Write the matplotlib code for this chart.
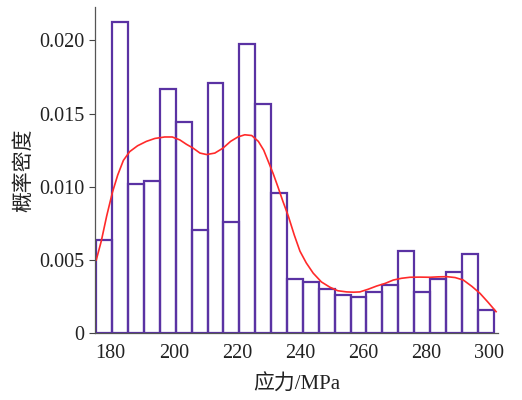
import numpy as np
import matplotlib
matplotlib.use('Agg')
import matplotlib.pyplot as plt

plt.rcParams['font.family'] = ['Liberation Serif', 'Noto Sans CJK SC']

# histogram bins (MPa) and densities
bin_start = 175.4
bin_width = 5.04
densities = [0.00637, 0.02126, 0.0102, 0.01038, 0.01667, 0.01439, 0.00706,
             0.01708, 0.00762, 0.01976, 0.01562, 0.0096, 0.00369, 0.0035,
             0.0030, 0.00264, 0.00246, 0.00282, 0.00332, 0.0056, 0.00282,
             0.00369, 0.00419, 0.00542, 0.00159]

# fitted density curve
curve_x = [175.4, 177.0, 178.7, 180.5, 182.2, 184.0, 186.0, 188.5, 191.3, 194.0,
           197.1, 199.5, 201.9, 204.0, 206.1, 208.3, 210.4, 213.0, 215.6, 218.0,
           220.3, 222.5, 224.7, 226.8, 228.5, 230.0, 231.5, 233.0, 234.6, 236.3,
           238.2, 240.0, 242.0, 244.2, 246.8, 249.5, 252.0, 254.8, 257.0, 259.0,
           261.6, 264.3, 267.0, 269.6, 272.2, 274.9, 278.0, 281.3, 284.0, 286.6,
           289.2, 291.8, 294.5, 297.1, 299.7, 302.2]
curve_y = [0.0050, 0.0063, 0.0080, 0.0096, 0.0108, 0.0118, 0.0124, 0.0128, 0.0131, 0.0133,
           0.0134, 0.0134, 0.0132, 0.0129, 0.01264, 0.0123, 0.0122, 0.0123, 0.01264, 0.0131,
           0.0134, 0.01355, 0.0135, 0.0131, 0.0125, 0.0117, 0.0109, 0.0100, 0.0090, 0.0080,
           0.0067, 0.0056, 0.0048, 0.0041, 0.0035, 0.00314, 0.0029, 0.00282, 0.0028, 0.00282,
           0.0030, 0.00322, 0.0034, 0.00363, 0.00375, 0.00382, 0.00383, 0.00382, 0.00385, 0.00386,
           0.0038, 0.00363, 0.0032, 0.00272, 0.0021, 0.00147]

fig = plt.figure(figsize=(5.22, 4.0), dpi=100)
ax = fig.add_axes([0.182, 0.167, 0.772, 0.816])

edges = bin_start + bin_width * np.arange(len(densities))
ax.bar(edges, densities, width=bin_width, align='edge', fill=False,
       edgecolor='#5a32a3', linewidth=1.6)
ax.plot(curve_x, curve_y, color='#ff2a2a', linewidth=1.2)

ax.set_xlim(175, 302.8)
ax.set_ylim(0, 0.02229)
ax.set_xticks([180, 200, 220, 240, 260, 280, 300])
ax.set_yticks([0, 0.005, 0.010, 0.015, 0.020])
ax.set_yticklabels(['0', '0.005', '0.010', '0.015', '0.020'])
ax.tick_params(axis='x', length=0, pad=8, labelsize=14.5, colors='#222222')
ax.tick_params(axis='y', length=4, width=0.8, direction='out', labelsize=14.5,
               color='#444444', labelcolor='#222222')

for s in ['top', 'right']:
    ax.spines[s].set_visible(False)
for s in ['left', 'bottom']:
    ax.spines[s].set_color('#555555')
    ax.spines[s].set_linewidth(0.9)

ax.set_xlabel('应力/MPa', fontsize=15, labelpad=8, color='#222222')
ax.set_ylabel('概率密度', fontsize=15, labelpad=4, color='#222222')

fig.savefig('out.png', dpi=100)
